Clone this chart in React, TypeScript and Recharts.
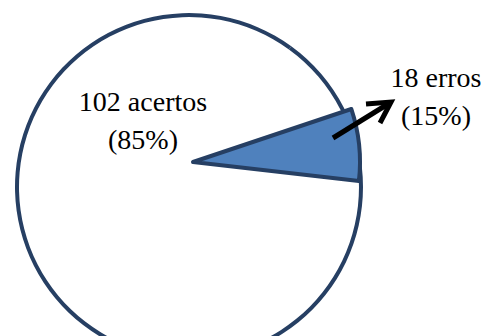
import React from 'react';
import { PieChart, Pie, Cell } from 'recharts';

const categories = ['erros', 'acertos'];
const counts = [18, 102];
const labelWords = ['erros', 'acertos'];

const OUTLINE = '#263F63';
const WEDGE_FILL = '#4F81BD';
const FONT = 'Liberation Serif, DejaVu Serif, Times New Roman, serif';

const total = counts.reduce((a, b) => a + b, 0);
const pieData = categories.map((name, i) => ({ name, value: counts[i] }));

// the exploded slice is drawn narrower than true scale, as in the source figure
const WEDGE_START = -6.5;
const WEDGE_SWEEP = 25;
const wedgeEnd = WEDGE_START + (WEDGE_SWEEP * total) / counts[0];

const renderLabel = (props: any) => {
  const { cx, cy, index, value, percent } = props;
  const pct = `(${Math.round(percent * 100)}%)`;
  const text = `${value} ${labelWords[index]}`;
  const tx = index === 0 ? cx + 243 : cx - 50;
  const ty = index === 0 ? cy - 75 : cy - 51;
  return (
    <g>
      {index === 0 && (
        <>
          <line x1={cx + 140} y1={cy - 24} x2={cx + 195} y2={cy - 58} stroke="#000" strokeWidth={5} />
          <polyline
            points={`${cx + 173},${cy - 58} ${cx + 198},${cy - 60} ${cx + 187},${cy - 39}`}
            fill="none"
            stroke="#000"
            strokeWidth={5}
          />
        </>
      )}
      <text x={tx} y={ty} textAnchor="middle" fontFamily={FONT} fontSize={28} fill="#000">
        {text}
      </text>
      <text x={tx} y={ty + 38} textAnchor="middle" fontFamily={FONT} fontSize={28} fill="#000">
        {pct}
      </text>
    </g>
  );
};

export default function App() {
  return (
    <div style={{ position: 'absolute', left: 0, top: 0, background: '#fff', fontFamily: FONT }}>
      <PieChart width={489} height={336} margin={{ top: 0, right: 0, bottom: 0, left: 0 }}>
        {/* pie outline */}
        <Pie
          data={pieData}
          dataKey="value"
          cx={189}
          cy={187}
          innerRadius={170}
          outerRadius={174}
          startAngle={0}
          endAngle={360}
          stroke="none"
          isAnimationActive={false}
        >
          {pieData.map((_d, i) => (
            <Cell key={`ring-${i}`} fill={OUTLINE} />
          ))}
        </Pie>
        {/* exploded slice + labels */}
        <Pie
          data={pieData}
          dataKey="value"
          cx={193}
          cy={162}
          innerRadius={0}
          outerRadius={167}
          startAngle={WEDGE_START}
          endAngle={wedgeEnd}
          labelLine={false}
          label={renderLabel}
          isAnimationActive={false}
        >
          {pieData.map((_d, i) => (
            <Cell
              key={`cell-${i}`}
              fill={i === 0 ? WEDGE_FILL : 'none'}
              stroke={i === 0 ? OUTLINE : 'none'}
              strokeWidth={4}
              strokeLinejoin="round"
            />
          ))}
        </Pie>
      </PieChart>
    </div>
  );
}
